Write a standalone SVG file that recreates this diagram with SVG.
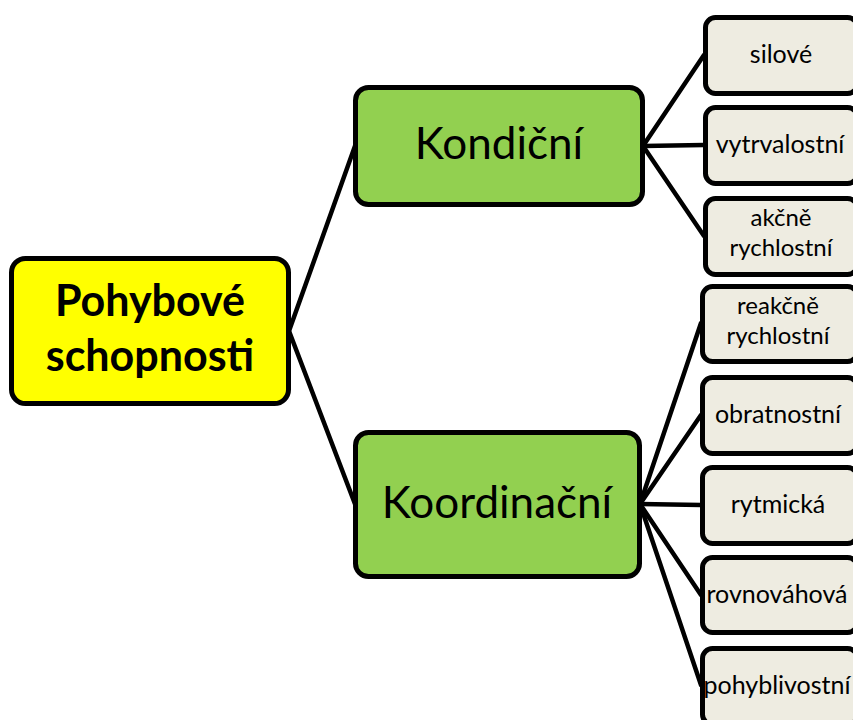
<svg xmlns="http://www.w3.org/2000/svg" width="853" height="720" viewBox="0 0 853 720">
  <style>
    .edge { stroke: #000; stroke-width: 4.5; fill: none; stroke-linecap: round; }
    .box { stroke: #000; stroke-width: 5; }
    .root { fill: #FFFF00; }
    .mid { fill: #92D050; }
    .leaf { fill: #EEECE1; }
    text { font-family: Lato, "Noto Sans", sans-serif; fill: #000; text-anchor: middle; }
    .t-root { font-size: 43px; font-weight: bold; }
    .t-mid { font-size: 44px; }
    .t-leaf { font-size: 25px; }
    .t-leaf2 { font-size: 24px; }
  </style>
  <rect width="853" height="720" fill="#fff"/>

  <!-- connectors -->
  <g id="connectors">
    <line class="edge" x1="289" y1="331" x2="355" y2="146"/>
    <line class="edge" x1="289" y1="331" x2="355" y2="504"/>
    <line class="edge" x1="643" y1="146" x2="704" y2="55"/>
    <line class="edge" x1="643" y1="146" x2="704" y2="145"/>
    <line class="edge" x1="643" y1="146" x2="704" y2="236"/>
    <line class="edge" x1="640" y1="504" x2="701" y2="323"/>
    <line class="edge" x1="640" y1="504" x2="701" y2="415"/>
    <line class="edge" x1="640" y1="504" x2="701" y2="505"/>
    <line class="edge" x1="640" y1="504" x2="701" y2="595"/>
    <line class="edge" x1="640" y1="504" x2="701" y2="685"/>
  </g>

  <g id="root">
    <rect class="box root" x="11.5" y="258.5" width="277" height="145" rx="14"/>
    <text class="t-root" x="150" y="316">Pohybové</text>
    <text class="t-root" x="150" y="371">schopnosti</text>
  </g>

  <g id="kondicni">
    <rect class="box mid" x="355.5" y="87.5" width="287" height="117" rx="13"/>
    <text class="t-mid" x="499" y="159">Kondiční</text>
  </g>

  <g id="koordinacni">
    <rect class="box mid" x="355.5" y="432.5" width="284" height="144" rx="13"/>
    <text class="t-mid" x="497" y="518">Koordinační</text>
  </g>

  <g id="silove">
    <rect class="box leaf" x="705.5" y="17.5" width="152" height="76" rx="10"/>
    <text class="t-leaf" x="781" y="63">silové</text>
  </g>
  <g id="vytrvalostni">
    <rect class="box leaf" x="705.5" y="107.5" width="152" height="76" rx="10"/>
    <text class="t-leaf" x="780" y="153">vytrvalostní</text>
  </g>
  <g id="akcne">
    <rect class="box leaf" x="705.5" y="198.5" width="152" height="76" rx="10"/>
    <text class="t-leaf2" x="781" y="226">akčně</text>
    <text class="t-leaf2" x="781" y="256">rychlostní</text>
  </g>

  <g id="reakcne">
    <rect class="box leaf" x="702.5" y="286.5" width="155" height="75" rx="10"/>
    <text class="t-leaf2" x="778" y="314">reakčně</text>
    <text class="t-leaf2" x="778" y="344">rychlostní</text>
  </g>
  <g id="obratnostni">
    <rect class="box leaf" x="702.5" y="377.5" width="155" height="76" rx="10"/>
    <text class="t-leaf" x="778" y="423">obratnostní</text>
  </g>
  <g id="rytmicka">
    <rect class="box leaf" x="702.5" y="467.5" width="155" height="76" rx="10"/>
    <text class="t-leaf" x="778" y="513">rytmická</text>
  </g>
  <g id="rovnovahova">
    <rect class="box leaf" x="702.5" y="557.5" width="155" height="75" rx="10"/>
    <text class="t-leaf" x="777" y="603">rovnováhová</text>
  </g>
  <g id="pohyblivostni">
    <rect class="box leaf" x="702.5" y="648.5" width="155" height="76" rx="10"/>
    <text class="t-leaf" x="777" y="694">pohyblivostní</text>
  </g>
</svg>
